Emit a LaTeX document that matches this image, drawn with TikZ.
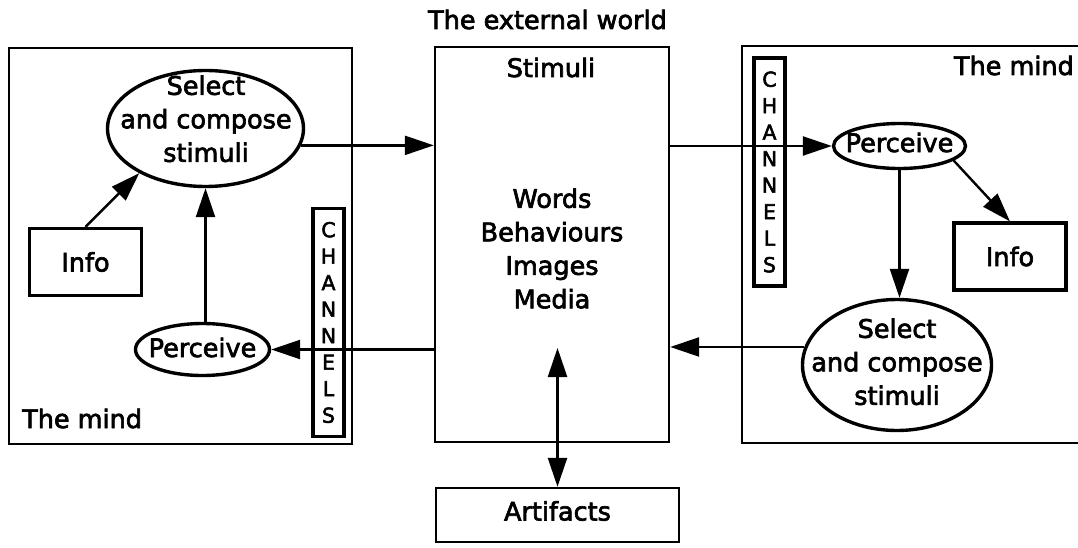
\documentclass[tikz,border=0pt]{standalone}
\usepackage{fontspec}
\setmainfont{DejaVu Sans}
\newfontfamily\heavysans{DejaVu Sans}[FakeBold=2.6]
\usetikzlibrary{shapes.geometric,arrows.meta}
\begin{document}
\begin{tikzpicture}[x=1pt,y=-1pt,
  every node/.style={font=\heavysans\fontsize{25.5}{33.5}\selectfont, inner sep=0pt},
  frame/.style={draw, rectangle, line width=2.4pt},
  infobox/.style={draw, rectangle, line width=3.2pt, minimum width=112pt, minimum height=67pt},
  chanbox/.style={draw, rectangle, line width=3.2pt, minimum width=31pt, minimum height=228pt,
    align=center, font=\heavysans\fontsize{20.5}{26.5}\selectfont},
  oval/.style={draw, ellipse, line width=3.4pt},
  conn/.style={line width=2.4pt, -{Triangle[length=29pt,width=19pt]}},
  dblconn/.style={line width=2.4pt, {Triangle[length=29pt,width=19pt]}-{Triangle[length=29pt,width=19pt]}},
]
\useasboundingbox (0,0) rectangle (1078,548);

% the three regions: two minds and the external world
\node[frame, minimum width=343pt, minimum height=396pt] (mindL) at (180.5,246) {};
\node[frame, minimum width=234pt, minimum height=395pt] (main) at (552,244.5) {};
\node[frame, minimum width=350pt, minimum height=397pt] (mindR) at (917,244.5) {};
\node[frame, minimum width=243pt, minimum height=54pt] (art) at (557.5,515) {};
\node (artT) at (557.5,511) {Artifacts};

% titles and labels
\node[anchor=base] (world) at (547.5,29) {The external world};
\node[anchor=base] (stim) at (551,77) {Stimuli};
\node[align=center] (words) at (552,248.5) {Words\\Behaviours\\Images\\Media};
\node[anchor=base west] (mindLt) at (22,428) {The mind};
\node[anchor=base east] (mindRt) at (1074,75) {The mind};

% left mind
\node[oval, minimum width=196pt, minimum height=116pt] (selL) at (205.5,128.5) {};
\node[align=center] (selLt) at (206,118.8) {Select\\and compose\\stimuli};
\node[oval, minimum width=134pt, minimum height=52pt] (perL) at (202.5,349.5) {};
\node (perLt) at (202.5,347.5) {Perceive};
\node[infobox] (infoL) at (85.5,262) {Info};
\node[chanbox] (chL) at (328.5,322.5) {C\\H\\A\\N\\N\\E\\L\\S};

% right mind
\node[oval, minimum width=132pt, minimum height=45pt] (perR) at (899.5,146) {};
\node (perRt) at (899.5,142.5) {Perceive};
\node[oval, minimum width=189pt, minimum height=131pt] (selR) at (897,365) {};
\node[align=center] (selRt) at (897,361.8) {Select\\and compose\\stimuli};
\node[infobox] (infoR) at (1010,256.5) {Info};
\node[chanbox] (chR) at (769.5,172) {C\\H\\A\\N\\N\\E\\L\\S};

% connectors
\draw[conn] (selL.-10.4) -- (selL.-10.4 -| main.west);
\draw[conn] (perL.east -| main.west) -- (perL.east);
\draw[conn] (selL.south |- perL.north) -- (selL.south);
\draw[conn] (infoL.north) -- (selL.214);
\draw[conn] (perR.west -| main.east) -- (perR.west);
\draw[conn] (perR.-15) -- (infoR.north);
\draw[conn] (perR.south) -- (perR.south |- selR.north);
\draw[conn] (selR.169.6) -- (selR.169.6 -| main.east);
\coordinate (mixtip) at (557.5,348);
\draw[dblconn] (mixtip) -- (art.north);
\end{tikzpicture}
\end{document}
